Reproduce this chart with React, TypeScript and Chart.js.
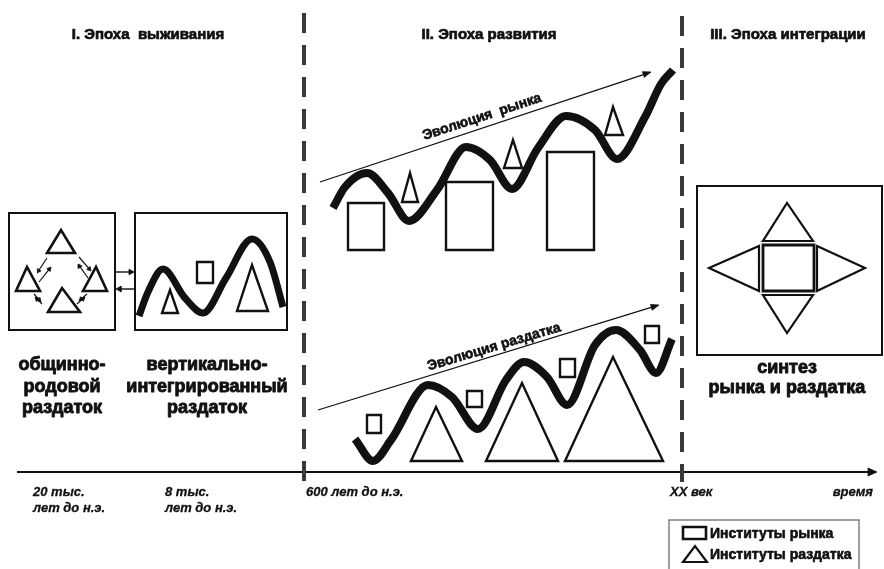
import { useEffect, useRef } from "react";
import { Chart, registerables } from "chart.js";

Chart.register(...registerables);

// Diagram space: x 0..884 (left → right), y 0..569 (top → bottom)

// ---------- era titles & boundaries ----------
const eraTitles = ["I. Эпоха  выживания", "II. Эпоха развития", "III. Эпоха интеграции"];
const eraTitleX = [148, 489, 788];
const eraTitleY = 35;
const boundaryX = [304, 682];
const boundaryTop = [13, 16];
const boundaryBottom = 482;

// ---------- time axis ----------
const timeAxisFrom = 17;
const timeAxisTo = 877;
const timeAxisLevel = 472;
const timeTickLine1 = ["20 тыс.", "8 тыс.", "600 лет до н.э.", "XX век"];
const timeTickLine2 = ["лет до н.э.", "лет до н.э.", "", ""];
const timeTickX = [33, 165, 306, 670];
const timeTickY = [492, 508];
const timeAxisTitle = "время";
const timeAxisTitleX = 873;

// ---------- stage I: communal distribution ----------
const communalFrame = [9, 213, 115, 330];
const communalTriangles = [
  [[61, 230], [47, 253], [75, 253]],
  [[27, 267], [16, 291], [40, 291]],
  [[96, 267], [83, 291], [107, 291]],
  [[62, 288], [48, 312], [80, 312]],
];
const communalArrows = [
  [47, 258, 37, 273],
  [39, 282, 51, 267],
  [79, 257, 91, 271],
  [88, 278, 78, 264],
  [34, 294, 41, 302],
  [42, 304, 35, 297],
  [87, 294, 79, 301],
  [77, 304, 85, 297],
];
const communalCaption = ["общинно-", "родовой", "раздаток"];
const communalCaptionX = 62;

// ---------- stage I: vertically integrated distribution ----------
const verticalFrame = [135, 213, 287, 330];
const verticalWaveX = [139, 148, 163, 185, 203, 226, 252, 270, 283];
const verticalWaveY = [316, 292, 269, 298, 313, 278, 239, 262, 307];
const verticalRect = [197, 262, 213, 283];
const verticalTriangles = [
  [[170, 290], [162, 313], [178, 313]],
  [[252, 265], [237, 311], [268, 311]],
];
const linkArrows = [
  [116, 272, 134, 272],
  [134, 289, 116, 289],
];
const verticalCaption = ["вертикально-", "интегрированный", "раздаток"];
const verticalCaptionX = 207;
const captionY = [365, 387, 408];

// ---------- stage II: market evolution ----------
const marketWaveX = [333, 345, 367, 388, 409, 437, 466, 490, 512, 538, 566, 595, 617, 645, 661, 673];
const marketWaveY = [208, 187, 173, 193, 221, 190, 147, 160, 189, 148, 116, 130, 159, 117, 84, 70];
const marketRects = [
  [348, 203, 384, 250],
  [446, 182, 493, 250],
  [547, 152, 594, 250],
];
const marketTriangles = [
  [[410, 173], [402, 202], [418, 202]],
  [[513, 140], [504, 168], [522, 168]],
  [[613, 107], [605, 135], [623, 135]],
];
const marketTrend = [320, 182, 651, 72];
const marketLabel = "Эволюция  рынка";
const marketLabelPos = [482, 117, -18.2];

// ---------- stage II: distribution evolution ----------
const distWaveX = [355, 373, 391, 428, 452, 478, 506, 524, 547, 567, 595, 616, 640, 656, 672];
const distWaveY = [439, 461, 440, 385, 397, 429, 380, 362, 377, 405, 345, 330, 350, 373, 339];
const distRects = [
  [367, 415, 381, 433],
  [467, 391, 482, 407],
  [560, 359, 575, 377],
  [645, 326, 659, 343],
];
const distTriangles = [
  [[436, 407], [411, 461], [462, 461]],
  [[522, 383], [486, 461], [558, 461]],
  [[613, 357], [565, 461], [663, 461]],
];
const distTrend = [318, 410, 659, 305];
const distLabel = "Эволюция раздатка";
const distLabelPos = [494, 347, -16.6];

// ---------- stage III: synthesis ----------
const synthFrame = [697, 186, 882, 355];
const synthRect = [763, 245, 814, 291];
const synthTriangles = [
  [[787, 203], [763, 241], [813, 241]],
  [[787, 333], [763, 295], [813, 295]],
  [[709, 268], [759, 246], [759, 291]],
  [[865, 268], [817, 246], [817, 291]],
];
const synthCaption = ["синтез", "рынка и раздатка"];
const synthCaptionX = 787;
const synthCaptionY = [368, 388];

// ---------- legend ----------
const legendFrame = [669, 520, 859, 580];
const legendRect = [683, 527, 706, 539];
const legendTriangle = [[695, 546], [683, 562], [707, 562]];
const legendLabels = ["Институты рынка", "Институты раздатка"];
const legendLabelX = 710;
const legendLabelY = [534, 555];

// ---------- helpers ----------
type P = { x: number; y: number };
const INK = "#111111";
const FONT = '"Liberation Sans", Arial, sans-serif';

const pts = (xs: number[], ys: number[]): P[] => xs.map((x, i) => ({ x, y: ys[i] }));
const rectLoop = (r: number[]): P[] => {
  const [l, t, rr, b] = r;
  const m = (l + rr) / 2;
  return [
    { x: m, y: t }, { x: rr, y: t }, { x: rr, y: b }, { x: l, y: b }, { x: l, y: t }, { x: m, y: t },
  ];
};
const triLoop = (v: number[][]): P[] => {
  const mx = (v[1][0] + v[2][0]) / 2;
  const my = (v[1][1] + v[2][1]) / 2;
  return [
    { x: mx, y: my }, { x: v[2][0], y: v[2][1] }, { x: v[0][0], y: v[0][1] }, { x: v[1][0], y: v[1][1] }, { x: mx, y: my },
  ];
};

const strokeDs = (data: P[], width: number, extra: any = {}) => ({
  type: "line" as const,
  data,
  borderColor: INK,
  backgroundColor: INK,
  borderWidth: width,
  pointRadius: 0,
  tension: 0,
  fill: false,
  clip: false as any,
  borderJoinStyle: "miter" as const,
  ...extra,
});

const arrowDs = (a: number[], width: number, len: number, half: number) => {
  const [x1, y1, x2, y2] = a;
  const ang = Math.atan2(y2 - y1, x2 - x1);
  const bx = x2 - len * Math.cos(ang);
  const by = y2 - len * Math.sin(ang);
  const nx = -Math.sin(ang) * half;
  const ny = Math.cos(ang) * half;
  const shaftEnd = { x: x2 - len * 0.6 * Math.cos(ang), y: y2 - len * 0.6 * Math.sin(ang) };
  return [
    strokeDs([{ x: x1, y: y1 }, shaftEnd], width),
    strokeDs(
      [{ x: x2, y: y2 }, { x: bx + nx, y: by + ny }, { x: bx - nx, y: by - ny }, { x: x2, y: y2 }],
      0.8,
      { fill: "shape", borderJoinStyle: "round" }
    ),
  ];
};

const waveDs = (xs: number[], ys: number[], width: number) =>
  strokeDs(pts(xs, ys), width, {
    cubicInterpolationMode: "monotone",
    borderJoinStyle: "round",
    borderCapStyle: "butt",
  });

type TextItem = {
  text: string; x: number; y: number; font: string; align: CanvasTextAlign; angle?: number; heavy?: number;
};

const buildTexts = (): TextItem[] => {
  const out: TextItem[] = [];
  eraTitles.forEach((t, i) => out.push({ text: t, x: eraTitleX[i], y: eraTitleY, font: `bold 15px ${FONT}`, align: "center", heavy: 0.7 }));
  communalCaption.forEach((t, i) => out.push({ text: t, x: communalCaptionX, y: captionY[i], font: `bold 18px ${FONT}`, align: "center", heavy: 0.9 }));
  verticalCaption.forEach((t, i) => out.push({ text: t, x: verticalCaptionX, y: captionY[i], font: `bold 18px ${FONT}`, align: "center", heavy: 0.9 }));
  synthCaption.forEach((t, i) => out.push({ text: t, x: synthCaptionX, y: synthCaptionY[i], font: `bold 18px ${FONT}`, align: "center", heavy: 0.9 }));
  out.push({ text: marketLabel, x: marketLabelPos[0], y: marketLabelPos[1], angle: marketLabelPos[2], font: `bold 14px ${FONT}`, align: "center", heavy: 0.6 });
  out.push({ text: distLabel, x: distLabelPos[0], y: distLabelPos[1], angle: distLabelPos[2], font: `bold 14px ${FONT}`, align: "center", heavy: 0.6 });
  timeTickLine1.forEach((t, i) => {
    out.push({ text: t, x: timeTickX[i], y: timeTickY[0], font: `italic bold 13px ${FONT}`, align: "left", heavy: 0.3 });
    if (timeTickLine2[i]) out.push({ text: timeTickLine2[i], x: timeTickX[i], y: timeTickY[1], font: `italic bold 13px ${FONT}`, align: "left", heavy: 0.3 });
  });
  out.push({ text: timeAxisTitle, x: timeAxisTitleX, y: timeTickY[0], font: `italic bold 13px ${FONT}`, align: "right", heavy: 0.3 });
  legendLabels.forEach((t, i) => out.push({ text: t, x: legendLabelX, y: legendLabelY[i], font: `bold 14px ${FONT}`, align: "left", heavy: 0.6 }));
  return out;
};

const textPlugin = {
  id: "diagramText",
  afterDatasetsDraw(chart: any) {
    const { ctx, scales } = chart;
    const sx = scales.x;
    const sy = scales.y;
    ctx.save();
    ctx.fillStyle = INK;
    ctx.strokeStyle = INK;
    ctx.lineJoin = "round";
    ctx.textBaseline = "middle";
    for (const t of buildTexts()) {
      ctx.save();
      ctx.font = t.font;
      ctx.textAlign = t.align;
      ctx.translate(sx.getPixelForValue(t.x), sy.getPixelForValue(t.y));
      if (t.angle) ctx.rotate((t.angle * Math.PI) / 180);
      ctx.fillText(t.text, 0, 0);
      if (t.heavy) {
        ctx.lineWidth = t.heavy;
        ctx.strokeText(t.text, 0, 0);
      }
      ctx.restore();
    }
    ctx.restore();
  },
};

const buildDatasets = () => {
  const ds: any[] = [];
  // era boundaries
  boundaryX.forEach((x, i) =>
    ds.push(
      strokeDs([{ x, y: boundaryTop[i] }, { x, y: boundaryBottom }], 4, {
        borderDash: [20, 12],
        borderColor: "#3a3a3a",
        borderCapStyle: "butt",
      })
    )
  );
  // time axis
  ds.push(...arrowDs([timeAxisFrom, timeAxisLevel, timeAxisTo, timeAxisLevel], 2, 9, 4));
  // frames
  [communalFrame, verticalFrame, synthFrame].forEach((f) => ds.push(strokeDs(rectLoop(f), 2)));
  ds.push(strokeDs(rectLoop(legendFrame), 1.5, { borderColor: "#808080" }));
  // stage I
  communalTriangles.forEach((t) => ds.push(strokeDs(triLoop(t), 2.6)));
  communalArrows.forEach((a) => ds.push(...arrowDs(a, 1.2, 4, 2.2)));
  linkArrows.forEach((a) => ds.push(...arrowDs(a, 1.4, 5, 2.8)));
  ds.push(waveDs(verticalWaveX, verticalWaveY, 7));
  ds.push(strokeDs(rectLoop(verticalRect), 2.4));
  verticalTriangles.forEach((t) => ds.push(strokeDs(triLoop(t), 2.4)));
  // stage II market
  ds.push(waveDs(marketWaveX, marketWaveY, 8));
  marketRects.forEach((r) => ds.push(strokeDs(rectLoop(r), 2.4)));
  marketTriangles.forEach((t) => ds.push(strokeDs(triLoop(t), 2.4)));
  ds.push(...arrowDs(marketTrend, 1.3, 8, 3));
  // stage II distribution
  ds.push(waveDs(distWaveX, distWaveY, 8));
  distRects.forEach((r) => ds.push(strokeDs(rectLoop(r), 2.4)));
  distTriangles.forEach((t) => ds.push(strokeDs(triLoop(t), 2.4)));
  ds.push(...arrowDs(distTrend, 1.3, 8, 3));
  // stage III
  ds.push(strokeDs(rectLoop(synthRect), 2.8));
  synthTriangles.forEach((t) => ds.push(strokeDs(triLoop(t), 2.2)));
  // legend symbols
  ds.push(strokeDs(rectLoop(legendRect), 2.6));
  ds.push(strokeDs(triLoop(legendTriangle), 2.2));
  return ds;
};

export default function App() {
  const ref = useRef<HTMLCanvasElement>(null);
  useEffect(() => {
    if (!ref.current) return;
    const chart = new Chart(ref.current, {
      type: "line",
      data: { datasets: buildDatasets() },
      options: {
        animation: false,
        responsive: false,
        events: [],
        layout: { padding: 0 },
        plugins: {
          legend: { display: false },
          tooltip: { enabled: false },
          title: { display: false },
        },
        elements: { point: { radius: 0 }, line: { tension: 0 } },
        scales: {
          x: { type: "linear", min: 0, max: 884, display: false },
          y: { type: "linear", min: 0, max: 569, reverse: true, display: false },
        },
      },
      plugins: [textPlugin],
    } as any);
    return () => chart.destroy();
  }, []);
  return (
    <div style={{ position: "fixed", left: 0, top: 0, width: 884, height: 569, background: "#ffffff" }}>
      <canvas ref={ref} width={884} height={569} style={{ display: "block", width: 884, height: 569 }} />
    </div>
  );
}
